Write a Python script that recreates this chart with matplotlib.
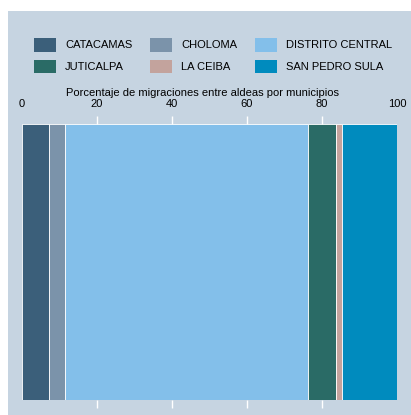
import matplotlib.pyplot as plt
from matplotlib.patches import Patch, Rectangle

# municipios y porcentaje de migraciones
municipios = ['CATACAMAS', 'CHOLOMA', 'DISTRITO CENTRAL', 'JUTICALPA', 'LA CEIBA', 'SAN PEDRO SULA']
porcentajes = [7.2, 4.3, 64.8, 7.3, 1.6, 14.8]
colores = ['#3B5F7A', '#7B93AA', '#83BFEA', '#2A6B66', '#C3A39D', '#008BBE']
ticks = [0, 20, 40, 60, 80, 100]

plt.rcParams['font.family'] = ['Liberation Sans', 'DejaVu Sans']
bg = '#C6D4E1'

fig = plt.figure(figsize=(4.11, 4.15), dpi=100)
fig.patch.set_facecolor('white')
fig.patches.append(Rectangle((8 / 411, 0), 1, 1 - 11 / 415, transform=fig.transFigure,
                             facecolor=bg, edgecolor='none', zorder=-5))

ax = fig.add_axes([22 / 411, 15 / 415, 375 / 411, 276 / 415])
ax.set_facecolor(bg)

left = 0
for nombre, val, col in zip(municipios, porcentajes, colores):
    ax.barh(0, val, left=left, height=1, color=col, edgecolor='white', linewidth=0.6, label=nombre)
    left += val

ax.set_xlim(0, 100)
ax.set_ylim(-0.5, 0.5)
ax.set_yticks([])
ax.set_xticks(ticks)
ax.xaxis.set_ticks_position('both')
ax.tick_params(axis='x', which='major', labeltop=True, labelbottom=False, direction='out',
               length=6, width=1, color='white', labelsize=8, pad=5)
for t in [ax.xaxis.get_major_ticks()[0], ax.xaxis.get_major_ticks()[-1]]:
    t.tick1line.set_visible(False)
    t.tick2line.set_visible(False)
for s in ax.spines.values():
    s.set_visible(False)

fig.text(202.5 / 411, 1 - 93 / 415, 'Porcentaje de migraciones entre aldeas por municipios',
         ha='center', va='center', fontsize=8)

# leyenda en filas: matplotlib llena por columnas, asi que se reordena
handles = [Patch(facecolor=c, edgecolor='none') for c in colores]
orden = [0, 3, 1, 4, 2, 5]
fig.legend([handles[i] for i in orden], [municipios[i] for i in orden], ncol=3,
           loc='upper left', bbox_to_anchor=(34 / 411, 1 - 38 / 415), frameon=False,
           borderpad=0, borderaxespad=0, fontsize=8, handlelength=2.0, handleheight=1.5,
           handletextpad=0.8, columnspacing=1.6, labelspacing=0.75)

fig.savefig('out.png', dpi=100)
